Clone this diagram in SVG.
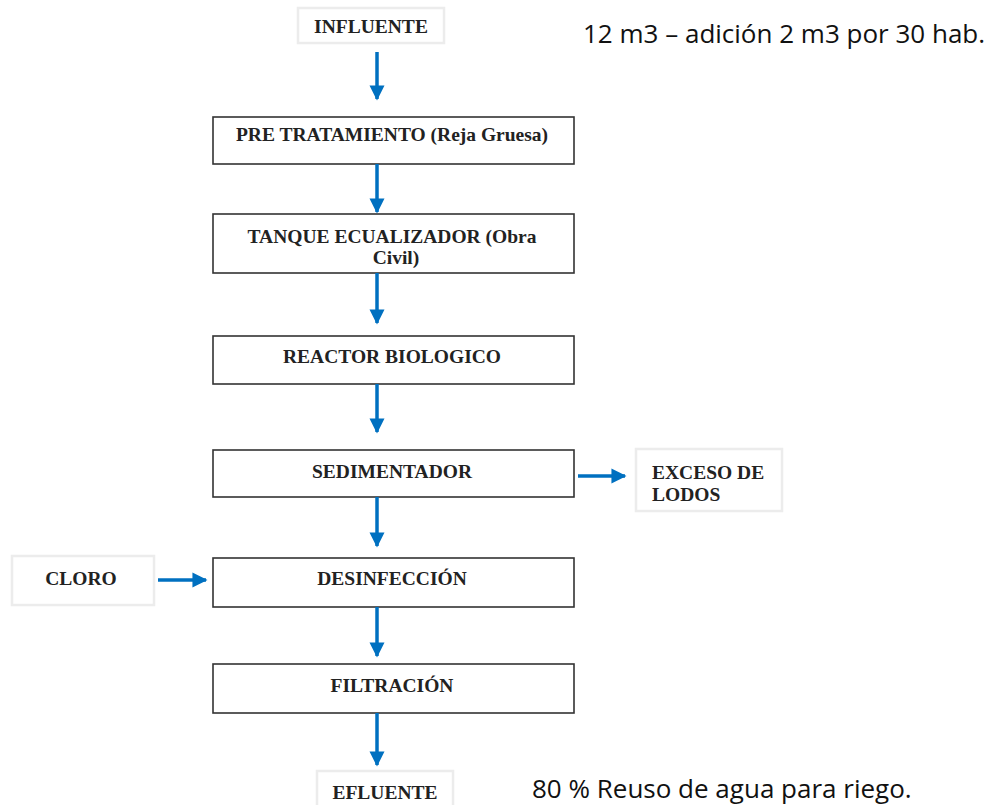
<svg xmlns="http://www.w3.org/2000/svg" width="997" height="805" viewBox="0 0 997 805">
<defs>
<marker id="ah" viewBox="0 0 10 10" refX="9" refY="5" markerWidth="4.3" markerHeight="4.3" markerUnits="strokeWidth" orient="auto">
<path d="M0,0 L10,5 L0,10 z" fill="#0070C0"/>
</marker>
</defs>
<style>
.box{fill:#fff;stroke:#333;stroke-width:1.6}
.soft{fill:#fff;stroke:#ececec;stroke-width:2.5}
.t{font-family:"Liberation Serif","Times New Roman",serif;font-weight:bold;font-size:19.5px;fill:#222;text-anchor:middle}
.tl{font-family:"Liberation Serif","Times New Roman",serif;font-weight:bold;font-size:19.5px;fill:#222}
.note{font-family:"Open Sans","Liberation Sans",sans-serif;font-size:26px;fill:#111}
.c{stroke:#0070C0;stroke-width:3.5;fill:none;marker-end:url(#ah)}
</style>
<rect width="997" height="805" fill="#fff"/>
<g id="influente"><rect class="soft" x="298" y="8" width="146" height="35"/><text class="t" x="371" y="33">INFLUENTE</text></g>
<g id="pre"><rect class="box" x="213" y="117" width="361" height="47"/><text class="t" x="392" y="141">PRE TRATAMIENTO (Reja Gruesa)</text></g>
<g id="tanque"><rect class="box" x="213" y="214" width="361" height="59"/><text class="t" x="392" y="243">TANQUE ECUALIZADOR (Obra</text><text class="t" x="396" y="264">Civil)</text></g>
<g id="reactor"><rect class="box" x="213" y="336" width="361" height="48"/><text class="t" x="392" y="363">REACTOR BIOLOGICO</text></g>
<g id="sedimentador"><rect class="box" x="213" y="450" width="361" height="47"/><text class="t" x="392" y="478">SEDIMENTADOR</text></g>
<g id="exceso"><rect class="soft" x="636" y="449" width="146" height="62"/><text class="tl" x="652" y="479">EXCESO DE</text><text class="tl" x="652" y="501">LODOS</text></g>
<g id="cloro"><rect class="soft" x="12" y="556" width="142" height="49"/><text class="t" x="81" y="585">CLORO</text></g>
<g id="desinfeccion"><rect class="box" x="213" y="558" width="361" height="49"/><text class="t" x="392" y="585">DESINFECCIÓN</text></g>
<g id="filtracion"><rect class="box" x="213" y="664" width="361" height="49"/><text class="t" x="392" y="692">FILTRACIÓN</text></g>
<g id="efluente"><rect class="soft" x="317" y="771" width="136" height="40"/><text class="t" x="385" y="799">EFLUENTE</text></g>
<g id="connectors">
<line class="c" x1="377" y1="52" x2="377" y2="99"/>
<line class="c" x1="377" y1="164" x2="377" y2="212"/>
<line class="c" x1="377" y1="273" x2="377" y2="323"/>
<line class="c" x1="377" y1="384" x2="377" y2="432"/>
<line class="c" x1="377" y1="497" x2="377" y2="546"/>
<line class="c" x1="377" y1="607" x2="377" y2="656"/>
<line class="c" x1="377" y1="713" x2="377" y2="765"/>
<line class="c" x1="578" y1="476" x2="625" y2="476"/>
<line class="c" x1="158" y1="580" x2="206" y2="580"/>
</g>
<text class="note" x="583" y="43">12 m3 – adición 2 m3 por 30 hab.</text>
<text class="note" x="532" y="798">80 % Reuso de agua para riego.</text>
</svg>
